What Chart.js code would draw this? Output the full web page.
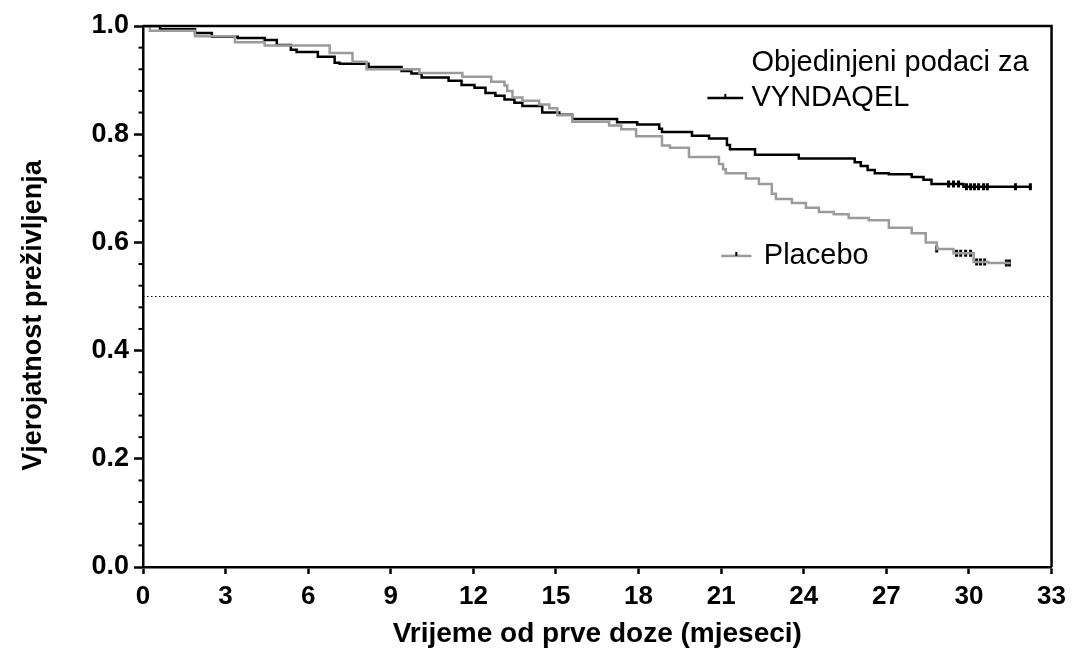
<!DOCTYPE html>
<html>
<head>
<meta charset="utf-8">
<title>Vjerojatnost preživljenja</title>
<script src="https://cdn.jsdelivr.net/npm/chart.js@4/dist/chart.umd.min.js"></script>
<style>
  html, body { margin: 0; padding: 0; background: #fff; }
  #wrap { position: relative; width: 1073px; height: 654px; }
</style>
</head>
<body>
<div id="wrap"><canvas id="km"></canvas></div>
<script>
// Kaplan-Meier krivulje (mjeseci, vjerojatnost nakon događaja)
const vyndaqelTime = [0, 0.62, 1.89, 2.50, 3.44, 4.42, 4.86, 5.37, 5.58, 6.35, 6.96, 7.14, 8.19, 9.39, 9.75, 10.12,
  11.10, 11.57, 12.04, 12.44, 12.80, 13.13, 13.49, 13.78, 14.50, 15.12, 15.59, 17.22, 17.95, 18.75, 18.85,
  19.94, 20.56, 21.21, 21.32, 22.23, 23.82, 25.85, 26.07, 26.32, 26.58, 27.09, 27.92, 28.35, 28.64, 29.80, 32.27];
const vyndaqelSurv = [1.0, 0.994, 0.987, 0.980, 0.978, 0.974, 0.965, 0.956, 0.952, 0.943, 0.932, 0.930, 0.924, 0.917, 0.912, 0.905,
  0.899, 0.891, 0.886, 0.876, 0.871, 0.864, 0.858, 0.852, 0.840, 0.836, 0.828, 0.822, 0.818, 0.810, 0.804,
  0.797, 0.792, 0.780, 0.772, 0.762, 0.755, 0.748, 0.741, 0.734, 0.728, 0.726, 0.721, 0.716, 0.708, 0.703, 0.703];

const placeboTime = [0, 0.25, 1.89, 3.34, 4.42, 6.78, 7.61, 8.12, 10.04, 11.60, 12.65, 13.13, 13.23, 13.42, 13.78,
  14.39, 14.76, 15.05, 15.59, 16.93, 17.37, 17.91, 18.85, 19.14, 19.83, 20.92, 21.07, 21.17, 21.90, 22.37,
  22.84, 22.99, 23.57, 24.08, 24.55, 25.09, 25.63, 26.36, 27.09, 27.92, 28.43, 28.83, 29.44, 30.17, 30.71, 31.51];
const placeboSurv = [1.0, 0.991, 0.981, 0.970, 0.964, 0.950, 0.934, 0.920, 0.913, 0.906, 0.897, 0.890, 0.880, 0.868, 0.862,
  0.855, 0.848, 0.835, 0.823, 0.816, 0.809, 0.796, 0.779, 0.775, 0.758, 0.745, 0.735, 0.728, 0.718, 0.708,
  0.690, 0.680, 0.673, 0.664, 0.656, 0.652, 0.645, 0.641, 0.627, 0.617, 0.600, 0.588, 0.580, 0.564, 0.562, 0.562];

// cenzurirani podaci (oznake na krivuljama)
const vyndaqelCensTime = [29.26, 29.44, 29.62, 29.91, 30.06, 30.20, 30.35, 30.53, 30.67, 31.69, 32.23];
const vyndaqelCensSurv = [0.708, 0.708, 0.708, 0.703, 0.703, 0.703, 0.703, 0.703, 0.703, 0.703, 0.703];
const placeboCensTime = [28.83, 29.55, 29.70, 29.88, 30.06, 30.28, 30.42, 30.57, 31.36, 31.47];
const placeboCensSurv = [0.588, 0.580, 0.580, 0.580, 0.580, 0.564, 0.564, 0.564, 0.562, 0.562];

const medianTime = [0, 33];
const medianSurv = [0.5, 0.5];

const xTicks = [0, 3, 6, 9, 12, 15, 18, 21, 24, 27, 30, 33];
const yTicks = [0, 0.2, 0.4, 0.6, 0.8, 1.0];

const xTitle = 'Vrijeme od prve doze (mjeseci)';
const yTitle = 'Vjerojatnost preživljenja';

const legendItems = [
  { lines: ['Objedinjeni podaci za', 'VYNDAQEL'], color: '#000000', x0: 20.5, x1: 21.8, y: 0.867, textX: 22.1 },
  { lines: ['Placebo'], color: '#9b9b9b', x0: 21.0, x1: 22.1, y: 0.575, textX: 22.55 }
];

const toPoints = (xs, ys) => xs.map((x, i) => ({ x: x, y: ys[i] }));

const FONT = "'Liberation Sans', Arial, sans-serif";
const BLACK = '#000000';
const GREY = '#9b9b9b';

// okvir, sporedne oznake na y-osi, naslov y-osi i legenda
const kmExtras = {
  id: 'kmExtras',
  afterDraw(chart) {
    const ctx = chart.ctx;
    const a = chart.chartArea;
    const xs = chart.scales.x;
    const ys = chart.scales.y;
    ctx.save();

    // okvir oko područja grafa
    ctx.strokeStyle = BLACK;
    ctx.lineWidth = 2.5;
    ctx.beginPath();
    ctx.moveTo(a.left, a.top);
    ctx.lineTo(a.right, a.top);
    ctx.lineTo(a.right, a.bottom);
    ctx.stroke();

    // sporedne oznake svakih 0.04
    ctx.lineWidth = 2;
    for (let i = 1; i < 25; i++) {
      if (i % 5 === 0) continue;
      const py = ys.getPixelForValue(i * 0.04);
      ctx.beginPath();
      ctx.moveTo(a.left - 4.5, py);
      ctx.lineTo(a.left, py);
      ctx.stroke();
    }

    // naslov y-osi (malo ispod sredine, kao u izvorniku)
    ctx.fillStyle = BLACK;
    ctx.font = 'bold 27px ' + FONT;
    ctx.textAlign = 'center';
    ctx.textBaseline = 'middle';
    ctx.save();
    ctx.translate(34, ys.getPixelForValue(0.465));
    ctx.rotate(-Math.PI / 2);
    ctx.fillText(yTitle, 0, 0);
    ctx.restore();

    // legenda
    ctx.font = '29px ' + FONT;
    ctx.textBaseline = 'middle';
    ctx.textAlign = 'left';
    legendItems.forEach(item => {
      const py = ys.getPixelForValue(item.y);
      const p0 = xs.getPixelForValue(item.x0);
      const p1 = xs.getPixelForValue(item.x1);
      ctx.strokeStyle = item.color;
      ctx.lineWidth = 2.5;
      ctx.beginPath();
      ctx.moveTo(p0, py);
      ctx.lineTo(p1, py);
      ctx.stroke();
      ctx.strokeStyle = BLACK;
      ctx.lineWidth = 2;
      ctx.beginPath();
      ctx.moveTo((p0 + p1) / 2, py - 4);
      ctx.lineTo((p0 + p1) / 2, py);
      ctx.stroke();
      ctx.fillStyle = BLACK;
      const tx = xs.getPixelForValue(item.textX);
      const n = item.lines.length;
      item.lines.forEach((txt, k) => {
        ctx.fillText(txt, tx, py + (k - (n - 1)) * 35);
      });
    });
    ctx.restore();
  }
};

new Chart(document.getElementById('km'), {
  type: 'line',
  data: {
    datasets: [
      {
        label: 'Placebo',
        data: toPoints(placeboTime, placeboSurv),
        borderColor: GREY,
        borderWidth: 2.5,
        stepped: true,
        pointRadius: 0,
        fill: false
      },
      {
        label: 'Objedinjeni podaci za VYNDAQEL',
        data: toPoints(vyndaqelTime, vyndaqelSurv),
        borderColor: BLACK,
        borderWidth: 2.5,
        stepped: true,
        pointRadius: 0,
        fill: false
      },
      {
        type: 'scatter',
        label: 'cenzurirano VYNDAQEL',
        data: toPoints(vyndaqelCensTime, vyndaqelCensSurv),
        pointStyle: 'line',
        rotation: 90,
        pointRadius: 3.5,
        borderColor: BLACK,
        borderWidth: 3
      },
      {
        type: 'scatter',
        label: 'cenzurirano placebo',
        data: toPoints(placeboCensTime, placeboCensSurv),
        pointStyle: 'line',
        rotation: 90,
        pointRadius: 3.5,
        borderColor: BLACK,
        borderWidth: 3
      },
      {
        label: 'medijan',
        data: toPoints(medianTime, medianSurv),
        borderColor: BLACK,
        borderWidth: 1,
        borderDash: [1.5, 2.5],
        pointRadius: 0,
        fill: false
      }
    ]
  },
  options: {
    responsive: true,
    maintainAspectRatio: false,
    animation: false,
    layout: { padding: { left: 0, right: 20, top: 26, bottom: 0 } },
    plugins: {
      legend: { display: false },
      tooltip: { enabled: false }
    },
    scales: {
      x: {
        type: 'linear',
        min: 0,
        max: 33,
        afterBuildTicks: scale => { scale.ticks = xTicks.map(v => ({ value: v })); },
        afterFit: scale => { scale.height = 87; },
        ticks: {
          color: BLACK,
          font: { family: FONT, size: 26, weight: 'bold' },
          padding: 7,
          maxRotation: 0,
          autoSkip: false
        },
        grid: {
          drawOnChartArea: false,
          drawTicks: true,
          tickLength: 7,
          tickWidth: 2.5,
          tickColor: BLACK
        },
        border: { display: true, color: BLACK, width: 2.5 },
        title: {
          display: true,
          text: xTitle,
          color: BLACK,
          font: { family: FONT, size: 28, weight: 'bold' },
          padding: { top: 0, bottom: 3 }
        }
      },
      y: {
        type: 'linear',
        min: 0,
        max: 1,
        afterBuildTicks: scale => { scale.ticks = yTicks.map(v => ({ value: v })); },
        afterFit: scale => { scale.width = 143; },
        ticks: {
          color: BLACK,
          font: { family: FONT, size: 27, weight: 'bold' },
          padding: 5,
          callback: v => Number(v).toFixed(1)
        },
        grid: {
          drawOnChartArea: false,
          drawTicks: true,
          tickLength: 9,
          tickWidth: 2.5,
          tickColor: BLACK
        },
        border: { display: true, color: BLACK, width: 2.5 },
        title: { display: false }
      }
    }
  },
  plugins: [kmExtras]
});
</script>
</body>
</html>
